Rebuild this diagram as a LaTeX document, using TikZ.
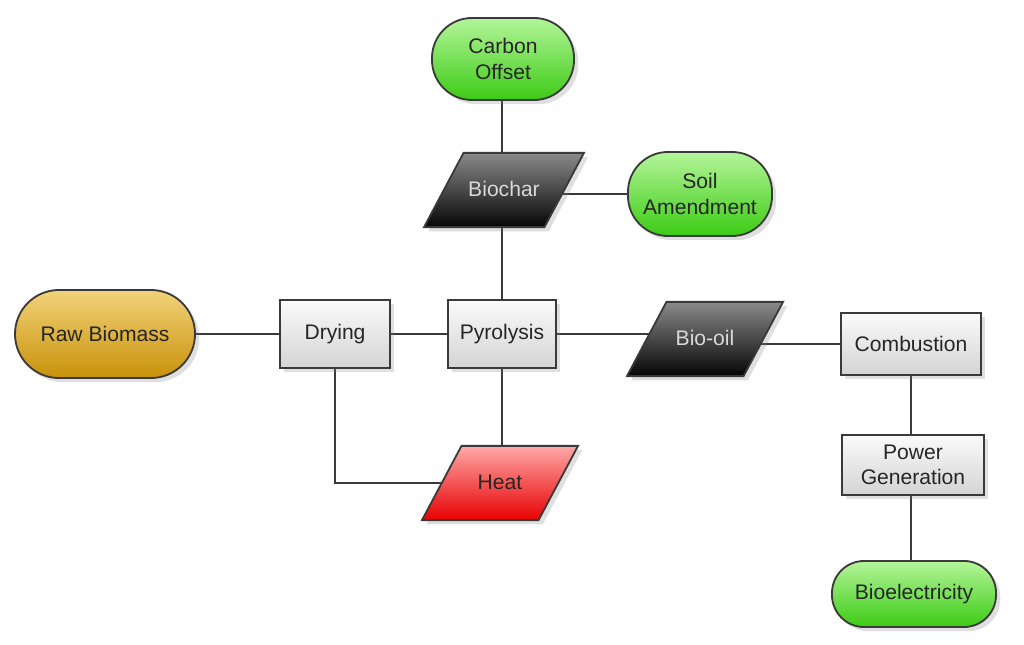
\documentclass[tikz,border=0pt]{standalone}
\usepackage{fontspec}
\setmainfont{Liberation Sans}
\usetikzlibrary{shapes.geometric,shadows,backgrounds}

\definecolor{linegray}{HTML}{3A3A3A}
\definecolor{greentop}{HTML}{B4F59A}
\definecolor{greenbot}{HTML}{3CCB14}
\definecolor{goldtop}{HTML}{F2D27A}
\definecolor{goldbot}{HTML}{C8920A}
\definecolor{boxtop}{HTML}{FAFAFA}
\definecolor{boxbot}{HTML}{D4D4D4}
\definecolor{darktop}{HTML}{8A8A8A}
\definecolor{darkbot}{HTML}{050505}
\definecolor{heattop}{HTML}{FFA8A8}
\definecolor{heatbot}{HTML}{E80000}

\begin{document}
\begin{tikzpicture}[x=0.025cm, y=-0.025cm,
    every node/.style={font=\fontsize{15}{18}\selectfont, align=center, text=black!85},
    shade/.style={drop shadow={opacity=0.25, shadow xshift=3pt, shadow yshift=-3pt}},
    product/.style={rectangle, rounded corners=1cm, draw=linegray, line width=1.3pt,
        top color=greentop, bottom color=greenbot, shade},
    process/.style={rectangle, draw=linegray, line width=1.3pt,
        top color=boxtop, bottom color=boxbot, shade},
    stream/.style={trapezium, trapezium left angle=62, trapezium right angle=118,
        trapezium stretches body, draw=linegray, line width=1.3pt,
        text height=11pt, text depth=2pt, inner ysep=0.7cm, minimum width=3.9cm, shade},
    link/.style={draw=linegray, line width=2pt}]

    \useasboundingbox (0,0) rectangle (1024,644);

    \node at (503, 59) [product, minimum width=3.55cm, minimum height=2.05cm] (offset) {Carbon\\Offset};
    \node at (504, 190) [stream, top color=darktop, bottom color=darkbot, text=white!85!black] (char) {Biochar};
    \node at (700, 194) [product, minimum width=3.6cm, minimum height=2.1cm] (soil) {Soil\\Amendment};
    \node at (105, 334) [product, rounded corners=1.1cm, minimum width=4.5cm, minimum height=2.2cm,
        top color=goldtop, bottom color=goldbot] (raw) {Raw Biomass};
    \node at (335, 334) [process, minimum width=2.75cm, minimum height=1.7cm] (dry) {Drying};
    \node at (502, 334) [process, minimum width=2.7cm, minimum height=1.7cm] (pyro) {Pyrolysis};
    \node at (705, 339) [stream, top color=darktop, bottom color=darkbot, text=white!85!black] (oil) {Bio-oil};
    \node at (911, 344) [process, minimum width=3.5cm, minimum height=1.55cm] (comb) {Combustion};
    \node at (913, 465) [process, minimum width=3.55cm, minimum height=1.5cm] (power) {Power\\Generation};
    \node at (914, 594) [product, rounded corners=0.8cm, minimum width=4.1cm, minimum height=1.65cm] (elec) {Bioelectricity};
    \node at (500, 483) [stream, top color=heattop, bottom color=heatbot] (heat) {Heat};

    \begin{scope}[on background layer]
    % white page
    \fill [white] (0,0) rectangle (1024,644);
    %products of pyrolysis
    \draw [link] (pyro.center) -- (pyro.center |- offset.center);
    \draw [link] (soil.center) -- (soil.center -| char.center);
    \draw [link] (pyro.center) -- (pyro.center |- heat.center);
    %main line
    \draw [link] (raw.center) -- (dry.center) -- (pyro.center) -- (pyro.center -| oil.center);
    \draw [link] (comb.center) -- (comb.center -| oil.center);
    \draw [link] (comb.center) -- (comb.center |- elec.center);
    %heat back to drying
    \draw [link] (dry.center) |- (heat.center);
    \end{scope}

\end{tikzpicture}
\end{document}
